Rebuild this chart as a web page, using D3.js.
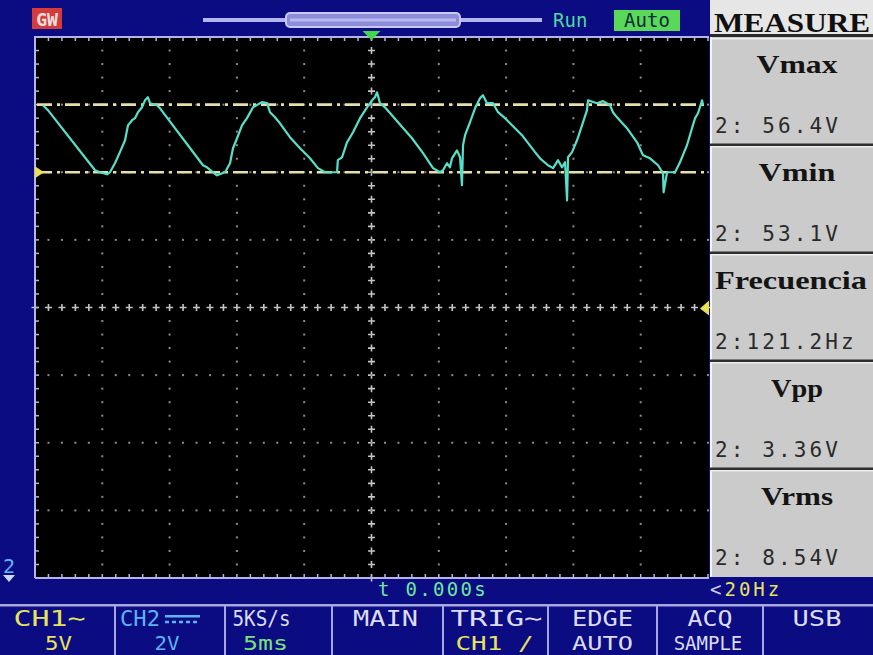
<!DOCTYPE html>
<html><head><meta charset="utf-8">
<script src="https://cdn.jsdelivr.net/npm/d3@7"></script>
<style>html,body{margin:0;padding:0;background:#0a0a80;overflow:hidden}</style>
</head><body><svg id="c" width="873" height="655"></svg>
<script>
// ---- data ----
const traceTime = [-24.41,-24.04,-20.54,-20.17,-19.65,-19.43,-19.06,-18.69,-18.31,-18.09,
 -17.79,-17.57,-17.35,-17.05,-16.83,-16.61,-16.46,-15.94,-15.71,-12.52,
 -12.22,-11.78,-11.48,-10.88,-10.51,-10.29,-9.99,-9.62,-9.25,-8.80,
 -8.14,-7.76,-7.54,-7.17,-6.80,-6.06,-5.31,-4.57,-3.98,-3.45,
 -2.56,-2.50,-2.19,-1.82,-1.37,-0.85,-0.33,0.04,0.26,0.41,
 0.63,1.00,1.97,3.01,3.83,4.57,5.09,5.31,5.61,5.83,
 5.98,6.35,6.58,6.72,6.80,6.95,7.32,7.69,8.06,8.28,
 8.58,9.03,9.40,9.92,10.44,11.18,12.15,12.52,13.11,13.49,
 13.86,14.15,14.38,14.53,14.60,14.90,15.27,15.64,16.01,16.09,
 16.75,17.20,17.72,17.94,18.24,18.98,19.73,20.17,20.69,21.29,
 21.66,21.70,21.96,22.55,22.92,23.44,23.81,24.04,24.26,24.56,24.63];
const traceVolts = [56.37,56.13,53.20,53.10,53.00,53.10,53.54,54.08,54.66,55.39,
 55.64,55.74,56.03,56.27,56.61,56.76,56.47,56.37,56.22,53.44,
 53.34,53.10,52.95,53.10,53.54,54.27,54.76,55.39,55.74,56.27,
 56.52,56.47,56.03,55.78,55.49,54.81,54.27,53.78,53.30,53.10,
 53.10,53.69,53.83,54.56,55.05,55.74,56.27,56.61,56.76,57.00,
 56.47,56.27,55.54,54.76,54.03,53.30,53.10,53.20,53.54,53.34,
 53.78,54.17,53.83,52.47,54.42,54.91,55.54,56.22,56.71,56.86,
 56.47,56.47,56.03,55.74,55.39,54.91,54.08,53.78,53.44,53.30,
 53.69,53.34,53.59,51.73,53.83,54.08,54.66,55.39,56.13,56.61,
 56.47,56.57,56.37,56.03,55.78,55.25,54.56,53.93,53.78,53.44,
 53.05,52.12,53.10,53.10,53.59,54.42,55.25,55.74,55.98,56.61,56.37];
const cursorLevels = [56.4, 53.1];           // Vmax / Vmin cursors
const measureNames = ["Vmax","Vmin","Frecuencia","Vpp","Vrms"];
const measureValues = ["2: 56.4V","2: 53.1V","2:121.2Hz","2: 3.36V","2: 8.54V"];
const menuTop = ["CH1\u223C","CH2","5KS/s","MAIN","TRIG\u223C","EDGE","ACQ","USB"];
const menuBottom = ["5V","2V","5ms","","CH1 /","AUTO","SAMPLE",""];
const timeLabel = "t 0.000s";
const freqLabel = "20Hz";

// ---- layout ----
const W=873,H=655, X0=35, X1=708, Y0=37, Y1=578;
const NAVY="#0b0b82", GRID="#8c8c8c", BORDER="#b4b4e8";
const svg=d3.select("#c");
const x=d3.scaleLinear().domain([-25,25]).range([X0,X1]);
const y=d3.scaleLinear().domain([33.3,59.7]).range([Y1,Y0]);
const tMin=-25, vMin=33.3, tStep=1, vStep=0.66;

svg.append("rect").attr("width",W).attr("height",H).attr("fill",NAVY);
svg.append("rect").attr("x",X0).attr("y",Y0).attr("width",X1-X0+1).attr("height",Y1-Y0).attr("fill","#000");

// grid dots
const g=svg.append("g");
const cross=(gx,gy)=>g.append("path").attr("d",`M${gx-3.5},${gy}H${gx+3.5}M${gx},${gy-3.5}V${gy+3.5}`).attr("stroke","#c4c4c4").attr("stroke-width",1.6);
for(let k=1;k<10;k++){
  const gx=x(tMin+k*5);
  for(let j=0;j<=40;j++){
    const gy=y(vMin+j*vStep);
    if(k===5) cross(gx,gy);
    else if(j%5!==0) g.append("rect").attr("x",gx-1).attr("y",gy-1).attr("width",2).attr("height",2).attr("fill",GRID);
  }
}
for(let k=1;k<8;k++){
  const gy=y(vMin+k*3.3);
  for(let i=0;i<=50;i++){
    const gx=x(tMin+i*tStep);
    if(k===4) cross(gx,gy);
    else g.append("rect").attr("x",gx-1).attr("y",gy-1).attr("width",2).attr("height",2).attr("fill",GRID);
  }
}
// border + ticks
svg.append("path").attr("d",`M${X0},${Y1}V${Y0}H${X1+1}M${X0},${Y1}H${X1+1}`).attr("stroke",BORDER).attr("stroke-width",2).attr("fill","none");
for(let i=0;i<=50;i++){
  const tx=x(tMin+i*tStep);
  g.append("path").attr("d",`M${tx},${Y0}v4M${tx},${Y1}v-4`).attr("stroke",BORDER).attr("stroke-width",1.5);
}
for(let j=0;j<=40;j++){
  const ty=y(vMin+j*vStep);
  g.append("path").attr("d",`M${X0},${ty}h4`).attr("stroke",BORDER).attr("stroke-width",1.5);
}

// cursors
svg.selectAll("line.cur").data(cursorLevels).join("line")
  .attr("x1",X0+2).attr("x2",X1).attr("y1",d=>y(d)).attr("y2",d=>y(d))
  .attr("stroke","#e6e0a8").attr("stroke-width",2.6).attr("stroke-dasharray","15,5,3,5");

// trace
const pts=traceTime.map((t,i)=>({t,v:traceVolts[i]}));
svg.append("path").datum(pts)
  .attr("d",d3.line().x(d=>x(d.t)).y(d=>y(d.v)))
  .attr("fill","none").attr("stroke","#58dfca").attr("stroke-width",2.2).attr("stroke-linejoin","round");

// markers
const ty0=y(cursorLevels[1]);
svg.append("path").attr("d",`M${X0},${ty0-6}L${X0+9},${ty0}L${X0},${ty0+6}Z`).attr("fill","#e8e050");
const trigY=y(46.5);
svg.append("path").attr("d",`M${X1+1},${trigY-7}L${X1-8},${trigY+1}L${X1+1},${trigY+8}Z`).attr("fill","#e8e050");
svg.append("path").attr("d",`M${x(0)-9},31L${x(0)+9},31L${x(0)},40Z`).attr("fill","#40d848");

// top bar
svg.append("rect").attr("x",32).attr("y",8).attr("width",30).attr("height",21).attr("fill","#d43c3c");
svg.append("text").attr("x",47).attr("y",26).attr("text-anchor","middle").attr("font-family","DejaVu Sans Mono").attr("font-size",18).attr("font-weight","bold").attr("fill","#fbe0e0").text("GW");
svg.append("line").attr("x1",203).attr("x2",542).attr("y1",20).attr("y2",20).attr("stroke","#b4b4f0").attr("stroke-width",4);
svg.append("rect").attr("x",286).attr("y",13).attr("width",174).attr("height",14).attr("rx",4).attr("fill","#8c8cd8").attr("stroke","#c8c8f4").attr("stroke-width",2);
svg.append("line").attr("x1",290).attr("x2",456).attr("y1",20).attr("y2",20).attr("stroke","#b8b8f0").attr("stroke-width",3);
svg.append("text").attr("x",553).attr("y",27).attr("font-family","DejaVu Sans Mono").attr("font-size",19).attr("fill","#4cd8a0").text("Run");
svg.append("rect").attr("x",614).attr("y",10).attr("width",66).attr("height",21).attr("fill","#5ad85a");
svg.append("text").attr("x",647).attr("y",27).attr("text-anchor","middle").attr("font-family","DejaVu Sans Mono").attr("font-size",19).attr("fill","#0c2a38").text("Auto");

// measure panel
const P0=710;
svg.append("rect").attr("x",P0).attr("y",0).attr("width",W-P0).attr("height",35).attr("fill","#e6e6e6");
svg.append("text").attr("x",714).attr("y",32).attr("font-family","Liberation Serif").attr("font-weight","bold").attr("font-size",28)
  .attr("textLength",156).attr("lengthAdjust","spacingAndGlyphs").attr("fill","#101010").text("MEASURE");
svg.append("rect").attr("x",P0).attr("y",34).attr("width",W-P0).attr("height",3).attr("fill","#2a2a2a");
const boxH=108, titleW=[81,77,152,52,72];
measureNames.forEach((name,i)=>{
  const top=37+i*boxH;
  svg.append("rect").attr("x",P0).attr("y",top).attr("width",W-P0).attr("height",boxH).attr("fill","#cbcbcb");
  svg.append("rect").attr("x",P0).attr("y",top).attr("width",2).attr("height",boxH).attr("fill","#f4f4f4");
  svg.append("rect").attr("x",P0).attr("y",top+1).attr("width",W-P0).attr("height",1.5).attr("fill","#eeeeee");
  if(i>0) svg.append("rect").attr("x",P0).attr("y",top-1.5).attr("width",W-P0).attr("height",2.5).attr("fill","#2e2e2e");
  svg.append("text").attr("x",i===2?791:797).attr("y",top+36).attr("text-anchor","middle")
    .attr("font-family","Liberation Serif").attr("font-weight","bold").attr("font-size",26)
    .attr("textLength",titleW[i]).attr("lengthAdjust","spacingAndGlyphs").attr("fill","#141414").text(name);
  svg.append("text").attr("x",715).attr("y",top+96).attr("font-family","DejaVu Sans Mono").attr("font-size",21)
    .attr("letter-spacing",3.1).attr("fill","#2a2a2a").style("white-space","pre").text(measureValues[i]);
});

// bottom info row
svg.append("text").attr("x",378).attr("y",596).attr("font-family","DejaVu Sans Mono").attr("font-size",19).attr("letter-spacing",2.3)
  .attr("fill","#6ee6a0").text(timeLabel);
svg.append("text").attr("x",710).attr("y",596).attr("font-family","DejaVu Sans Mono").attr("font-size",19).attr("letter-spacing",3)
  .attr("fill","#d0d0f0").text("<").append("tspan").attr("fill","#e8e060").text(freqLabel);
// channel marker
svg.append("text").attr("x",3).attr("y",573).attr("font-family","DejaVu Sans Mono").attr("font-size",20).attr("fill","#5ab8f0").text("2");
svg.append("path").attr("d","M3,575L15,575L9,582Z").attr("fill","#d0d8f0");

// menu bar
const seps=[115,225,332,443,548,657,763];
const cellEdges=[0,...seps,W];
svg.append("rect").attr("x",0).attr("y",604).attr("width",W).attr("height",2.5).attr("fill","#a8a8e0");
seps.forEach(s=>svg.append("rect").attr("x",s-1).attr("y",604).attr("width",2).attr("height",H-604).attr("fill","#a8a8e0"));
const topCol=["#e6e45a","#5cb4f0","#dcdcf4","#dcdcf4","#dcdcf4","#dcdcf4","#dcdcf4","#dcdcf4"];
const botCol=["#e6e45a","#5cb4f0","#7ae07a","#dcdcf4","#e6e45a","#dcdcf4","#dcdcf4","#dcdcf4"];
const topW=[72,40,58,65,92,61,45,49];
const botW=[27,25,45,0,78,61,0,0];
const topDx=[-8,-30,-17,-2,1,0,0,-1];
const botDx=[1,-3,-13,0,-1,0,-2,0];
menuTop.forEach((t,i)=>{
  const cx=(cellEdges[i]+cellEdges[i+1])/2;
  svg.append("text").attr("x",cx+topDx[i]).attr("y",626).attr("text-anchor","middle").attr("font-family","DejaVu Sans Mono")
    .attr("font-size",22).attr("textLength",topW[i]).attr("lengthAdjust","spacingAndGlyphs").attr("fill",topCol[i]).text(t);
  if(menuBottom[i]){
    const b=svg.append("text").attr("x",cx+botDx[i]).attr("y",650).attr("text-anchor","middle").attr("font-family","DejaVu Sans Mono")
      .attr("font-size",19).attr("fill",botCol[i]).style("white-space","pre").text(menuBottom[i]);
    if(botW[i]) b.attr("textLength",botW[i]).attr("lengthAdjust","spacingAndGlyphs");
  }
});
// DC symbol for CH2
svg.append("rect").attr("x",165).attr("y",615).attr("width",35).attr("height",2.5).attr("fill","#5cb4f0");
svg.append("line").attr("x1",165).attr("x2",200).attr("y1",622).attr("y2",622).attr("stroke","#5cb4f0").attr("stroke-width",2.5).attr("stroke-dasharray","4,3");
</script></body></html>
